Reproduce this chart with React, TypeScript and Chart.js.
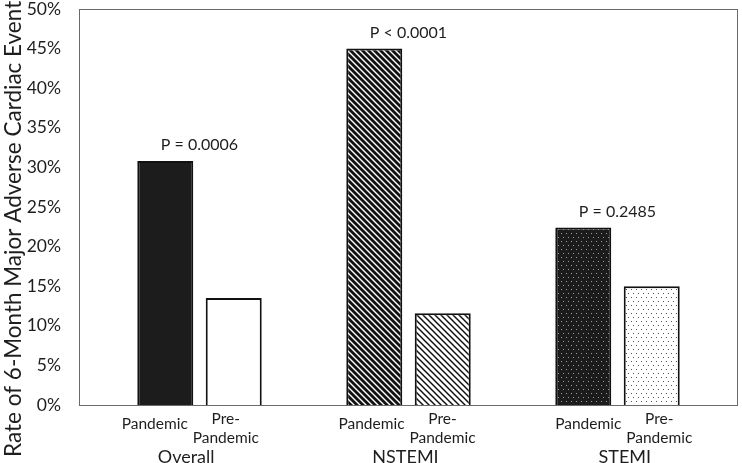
import React, { useEffect, useRef } from "react";
import { Chart, registerables } from "chart.js";

Chart.register(...registerables);

const groups = ["Overall", "NSTEMI", "STEMI"];
const pandemicRates = [30.8, 45.0, 22.4];
const prePandemicRates = [13.5, 11.6, 15.0];
const pValues = ["P = 0.0006", "P < 0.0001", "P = 0.2485"];
const barLabels = [["Pandemic"], ["Pre-", "Pandemic"]];
const yTicks = [0, 5, 10, 15, 20, 25, 30, 35, 40, 45, 50];
const yTitle = "Rate of 6-Month Major Adverse Cardiac Events";

const FONT = "Lato, 'Liberation Sans', sans-serif";
const TEXT = "#1e1e1e";

function tile(w: number, h: number, draw: (c: CanvasRenderingContext2D) => void) {
  const c = document.createElement("canvas");
  c.width = w;
  c.height = h;
  const ctx = c.getContext("2d")!;
  draw(ctx);
  return c;
}

function diag(lw: number) {
  return tile(6, 6, (c) => {
    c.fillStyle = "#ffffff";
    c.fillRect(0, 0, 6, 6);
    c.strokeStyle = "#111111";
    c.lineWidth = lw;
    for (let k = -1; k <= 1; k++) {
      c.beginPath();
      c.moveTo(6 * k - 3, -3);
      c.lineTo(6 * k + 9, 9);
      c.stroke();
    }
  });
}

function dots(bg: string, dot: string) {
  return tile(10, 8, (c) => {
    c.fillStyle = bg;
    c.fillRect(0, 0, 10, 8);
    c.fillStyle = dot;
    [[1, 1], [6, 1], [3, 5], [8, 5]].forEach(([x, y]) => c.fillRect(x, y, 1, 1));
  });
}

function boxOf(chartArea: any) {
  return {
    l: Math.round(chartArea.left - 16) + 0.5,
    r: Math.round(chartArea.right + 15) + 0.5,
    t: Math.round(chartArea.top) + 0.5,
    b: Math.round(chartArea.bottom) + 0.5,
  };
}

const labelsPlugin = {
  id: "customLabels",
  beforeDatasetsDraw(chart: any) {
    const { ctx, chartArea } = chart;
    const { l, r, t, b } = boxOf(chartArea);
    ctx.save();
    ctx.strokeStyle = "#6a6a6a";
    ctx.lineWidth = 1;
    ctx.strokeRect(l, t, r - l, b - t);
    ctx.restore();
  },
  afterDraw(chart: any) {
    const { ctx, chartArea, scales } = chart;
    const { l, r } = boxOf(chartArea);
    const mid = (l + r) / 2;
    ctx.save();
    ctx.fillStyle = TEXT;
    ctx.textAlign = "center";
    ctx.textBaseline = "middle";
    ctx.font = `16px ${FONT}`;
    groups.forEach((_, i) => {
      const x = scales.x.getPixelForValue(i);
      const m = Math.max(pandemicRates[i], prePandemicRates[i]);
      const y = scales.y.getPixelForValue(m) - 16;
      ctx.fillText(pValues[i], x, y);
    });
    ctx.font = `15.5px ${FONT}`;
    [0, 1].forEach((j) => {
      const meta = chart.getDatasetMeta(j);
      meta.data.forEach((bar: any) => {
        const lines = barLabels[j];
        const x = mid + (bar.x - mid) * 1.037 - 1.5;
        if (lines.length === 1) {
          ctx.fillText(lines[0], x, chartArea.bottom + 19);
        } else {
          ctx.fillText(lines[0], x, chartArea.bottom + 14);
          ctx.fillText(lines[1], x, chartArea.bottom + 33);
        }
      });
    });
    ctx.font = `18px ${FONT}`;
    const w = (r - l) / groups.length;
    groups.forEach((g, i) => {
      ctx.fillText(g, l + w * (i + 0.5) - 3, chartArea.bottom + 52);
    });
    // y-axis title
    ctx.font = `22.5px ${FONT}`;
    ctx.translate(chartArea.left - 81, chartArea.bottom - 181);
    ctx.rotate(-Math.PI / 2);
    ctx.fillText(yTitle, 0, 0);
    ctx.restore();
  },
};

export default function App() {
  const ref = useRef<HTMLCanvasElement | null>(null);
  useEffect(() => {
    const canvas = ref.current!;
    const ctx = canvas.getContext("2d")!;
    const pat = (c: HTMLCanvasElement) => ctx.createPattern(c, "repeat");
    const pandemicFill = ["#1c1c1c", pat(diag(2.8)), pat(dots("#1c1c1c", "#9a9a9a"))];
    const preFill = ["#ffffff", pat(diag(1.5)), pat(dots("#ffffff", "#555555"))];

    const chart = new Chart(canvas, {
      type: "bar",
      data: {
        labels: groups,
        datasets: [
          {
            label: "Pandemic",
            data: pandemicRates,
            backgroundColor: pandemicFill as any,
            borderColor: "#111111",
            borderWidth: 2,
          },
          {
            label: "Pre-Pandemic",
            data: prePandemicRates,
            backgroundColor: preFill as any,
            borderColor: "#111111",
            borderWidth: 2,
          },
        ],
      },
      options: {
        responsive: true,
        maintainAspectRatio: false,
        animation: false,
        layout: { padding: { top: 9, right: 20, left: 0, bottom: 0 } },
        datasets: { bar: { categoryPercentage: 0.655, barPercentage: 0.818 } },
        plugins: { legend: { display: false }, tooltip: { enabled: false } },
        scales: {
          x: {
            grid: { display: false, drawTicks: false },
            border: { display: false },
            ticks: { display: false },
            afterFit: (s: any) => {
              s.height = 58;
              s.paddingLeft = 0;
              s.paddingRight = 0;
            },
          },
          y: {
            min: 0,
            max: 50,
            afterBuildTicks: (s: any) => {
              s.ticks = yTicks.map((v) => ({ value: v }));
            },
            grid: { display: false, drawTicks: false },
            border: { display: false },
            ticks: {
              color: TEXT,
              font: { family: FONT, size: 17.5 },
              padding: 34,
              callback: (v: any) => `${v}%`,
            },
            afterFit: (s: any) => {
              s.width = 95;
              s.paddingTop = 0;
              s.paddingBottom = 0;
            },
          },
        },
      },
      plugins: [labelsPlugin],
    });
    return () => chart.destroy();
  }, []);
  return (
    <div style={{ position: "absolute", left: 0, top: 0, width: 742, height: 463 }}>
      <canvas ref={ref} />
    </div>
  );
}
